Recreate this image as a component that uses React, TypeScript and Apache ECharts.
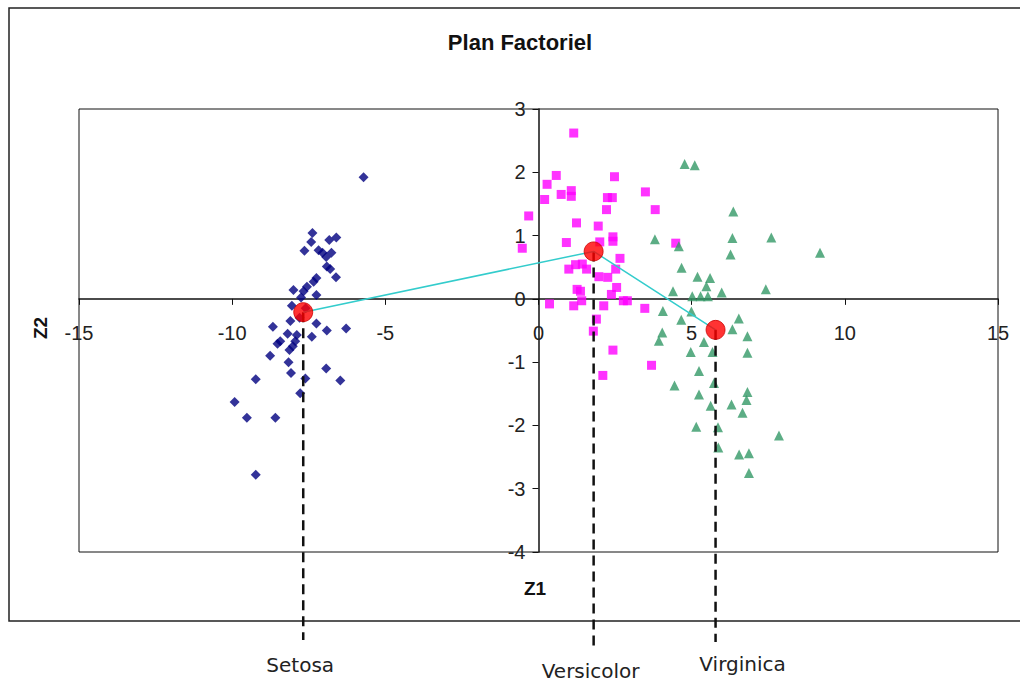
import React, { useEffect, useRef } from "react";
import * as echarts from "echarts";

const titleText = "Plan Factoriel";
const xAxisName = "Z1";
const yAxisName = "Z2";
const classNames = ["Setosa", "Versicolor", "Virginica"];

const setosa: number[][] = [
  [-5.71, 1.92], [-7.38, 1.04], [-7.42, 0.9], [-6.83, 0.93], [-6.6, 0.97],
  [-7.64, 0.76], [-7.18, 0.77], [-7.05, 0.73], [-6.76, 0.73], [-6.93, 0.66],
  [-6.91, 0.51], [-6.8, 0.47], [-6.61, 0.34], [-7.25, 0.33], [-7.34, 0.27],
  [-7.56, 0.19], [-8.0, 0.14], [-7.67, 0.12], [-7.25, 0.06], [-7.75, 0.02],
  [-8.05, -0.11], [-8.1, -0.35], [-8.67, -0.44], [-7.25, -0.39], [-6.91, -0.5],
  [-6.28, -0.47], [-8.19, -0.55], [-7.89, -0.57], [-7.4, -0.6], [-8.43, -0.67],
  [-8.52, -0.71], [-7.94, -0.67], [-8.02, -0.75], [-8.13, -0.81], [-8.76, -0.9],
  [-8.16, -1.0], [-6.93, -1.1], [-8.08, -1.17], [-7.61, -1.26], [-9.23, -1.27],
  [-6.47, -1.29], [-7.78, -1.49], [-9.92, -1.63], [-9.52, -1.88], [-8.59, -1.88],
  [-9.23, -2.78], [-7.6, -0.15], [-7.8, -0.3],
];

const versicolor: number[][] = [
  [1.15, 2.62], [0.58, 1.95], [0.28, 1.81], [0.2, 1.57], [0.74, 1.65],
  [1.07, 1.71], [1.07, 1.62], [2.48, 1.93], [2.25, 1.6], [2.41, 1.6],
  [2.22, 1.41], [3.49, 1.69], [3.81, 1.41], [-0.32, 1.31], [1.24, 1.2],
  [1.95, 1.15], [-0.53, 0.8], [0.91, 0.89], [2.0, 0.9], [2.43, 0.98],
  [2.43, 0.91], [2.66, 0.64], [4.48, 0.88], [0.99, 0.47], [1.21, 0.54],
  [1.43, 0.55], [1.57, 0.47], [2.52, 0.47], [1.97, 0.35], [2.26, 0.34],
  [1.26, 0.15], [1.37, 0.12], [2.55, 0.18], [2.38, 0.07], [1.41, -0.03],
  [0.36, -0.08], [1.15, -0.11], [2.13, -0.11], [2.77, -0.03], [2.9, -0.03],
  [3.47, -0.15], [1.89, -0.32], [1.79, -0.51], [2.43, -0.81], [3.69, -1.05],
  [2.1, -1.21],
];

const virginica: number[][] = [
  [4.77, 2.13], [5.1, 2.11], [6.36, 1.38], [3.8, 0.94], [4.58, 0.83],
  [6.33, 0.96], [7.6, 0.97], [6.27, 0.7], [9.19, 0.73], [4.67, 0.49],
  [5.19, 0.35], [5.6, 0.33], [5.48, 0.2], [4.39, 0.12], [7.42, 0.15],
  [5.98, 0.1], [5.02, 0.04], [5.29, 0.04], [5.53, 0.04], [4.06, -0.19],
  [4.99, -0.2], [4.66, -0.33], [6.54, -0.31], [6.33, -0.48], [4.04, -0.53],
  [3.93, -0.66], [5.4, -0.68], [6.82, -0.59], [4.97, -0.84], [5.68, -0.84],
  [6.82, -0.85], [5.24, -1.14], [5.73, -1.33], [4.44, -1.37], [5.24, -1.51],
  [6.82, -1.47], [6.79, -1.6], [5.62, -1.69], [6.3, -1.67], [6.66, -1.8],
  [5.15, -2.02], [5.86, -2.03], [7.85, -2.16], [5.87, -2.35], [6.55, -2.46],
  [6.87, -2.44], [6.87, -2.75],
];

const centroids: number[][] = [
  [-7.68, -0.21],
  [1.8, 0.75],
  [5.78, -0.49],
];

const xMin = -15;
const xMax = 15;
const yMin = -4;
const yMax = 3;

// layout (pixels)
const W = 1020;
const H = 684;
const gridLeft = 79;
const gridRight = 22;
const gridTop = 109;
const gridBottom = 132;
const dropEnd = [640, 648, 642];
const labelDx = [-3, -3, 27];
const labelY = [665, 671, 664];

export default function App() {
  const ref = useRef<HTMLDivElement>(null);

  useEffect(() => {
    if (!ref.current) return;
    const chart = echarts.init(ref.current, undefined, { renderer: "svg" });
    const gridW = W - gridLeft - gridRight;
    const gridH = H - gridTop - gridBottom;
    // place each axis where the other axis is zero (axes cross at the origin)
    const xAxisOffset = -(gridH * (0 - yMin)) / (yMax - yMin);
    const yAxisOffset = -(gridW * (0 - xMin)) / (xMax - xMin);
    const axisLabelFont = {
      color: "#222",
      fontSize: 20,
      fontFamily: "Liberation Sans, Arial, sans-serif",
    };
    chart.setOption({
      animation: false,
      backgroundColor: "#fff",
      grid: {
        left: gridLeft,
        right: gridRight,
        top: gridTop,
        bottom: gridBottom,
        show: true,
        borderColor: "#111",
        borderWidth: 1,
        backgroundColor: "#fff",
      },
      xAxis: {
        type: "value",
        min: xMin,
        max: xMax,
        interval: 5,
        position: "bottom",
        offset: xAxisOffset,
        axisLine: { onZero: false, lineStyle: { color: "#111", width: 1.5 } },
        axisTick: { show: true, length: 6, inside: false, lineStyle: { color: "#111" } },
        axisLabel: { ...axisLabelFont, margin: 24, showMinLabel: true, showMaxLabel: true },
        splitLine: { show: false },
      },
      yAxis: {
        type: "value",
        min: yMin,
        max: yMax,
        interval: 1,
        position: "left",
        offset: yAxisOffset,
        axisLine: { onZero: false, lineStyle: { color: "#111", width: 1.5 } },
        axisTick: { show: true, length: 6, inside: false, lineStyle: { color: "#111" } },
        axisLabel: { ...axisLabelFont, margin: 13, showMinLabel: true, showMaxLabel: true },
        splitLine: { show: false },
      },
      series: [
        {
          name: "Setosa",
          type: "scatter",
          data: setosa,
          symbol: "diamond",
          symbolSize: 10,
          itemStyle: { color: "#00007F" },
          z: 2,
        },
        {
          name: "Versicolor",
          type: "scatter",
          data: versicolor,
          symbol: "rect",
          symbolSize: 9,
          itemStyle: { color: "#FF00FF" },
          z: 2,
        },
        {
          name: "Virginica",
          type: "scatter",
          data: virginica,
          symbol: "triangle",
          symbolSize: 10,
          itemStyle: { color: "#339966" },
          z: 2,
        },
        {
          type: "custom",
          data: centroids,
          clip: false,
          z: 3,
          renderItem: (params: any, api: any) => {
            const p = api.coord([api.value(0), api.value(1)]);
            const i = params.dataIndex;
            return {
              type: "group",
              children: [
                {
                  type: "line",
                  shape: { x1: p[0], y1: p[1], x2: p[0], y2: dropEnd[i] },
                  style: { stroke: "#111", lineWidth: 2.5, lineDash: [10, 6] },
                },
                {
                  type: "text",
                  x: p[0] + labelDx[i],
                  y: labelY[i],
                  style: {
                    text: classNames[i],
                    fill: "#222",
                    fontSize: 20,
                    fontFamily: "DejaVu Sans, Verdana, sans-serif",
                    align: "center",
                    verticalAlign: "middle",
                  },
                },
              ],
            };
          },
        },
        {
          type: "line",
          data: centroids,
          showSymbol: false,
          lineStyle: { color: "#33CCCC", width: 1.5 },
          z: 4,
        },
        {
          type: "scatter",
          data: centroids,
          symbol: "circle",
          symbolSize: 19,
          itemStyle: { color: "#FF0000", borderColor: "#cc0000", borderWidth: 1 },
          z: 5,
        },
      ],
      graphic: [
        {
          type: "rect",
          shape: { x: 9, y: 8, width: 1030, height: 613 },
          style: { fill: "none", stroke: "#222", lineWidth: 1.5 },
          z: -1,
          silent: true,
        },
        {
          type: "text",
          x: 520,
          y: 42,
          style: {
            text: titleText,
            fill: "#111",
            fontSize: 22,
            fontWeight: "bold",
            fontFamily: "Liberation Sans, Arial, sans-serif",
            align: "center",
            verticalAlign: "middle",
          },
        },
        {
          type: "text",
          x: 535,
          y: 588,
          style: {
            text: xAxisName,
            fill: "#111",
            fontSize: 19,
            fontWeight: "bold",
            fontFamily: "Liberation Sans, Arial, sans-serif",
            align: "center",
            verticalAlign: "middle",
          },
        },
        {
          type: "text",
          x: 40,
          y: 328,
          rotation: Math.PI / 2,
          style: {
            text: yAxisName,
            fill: "#111",
            fontSize: 19,
            fontWeight: "bold",
            fontFamily: "Liberation Sans, Arial, sans-serif",
            align: "center",
            verticalAlign: "middle",
          },
        },
      ],
    });
    return () => chart.dispose();
  }, []);

  return (
    <div
      ref={ref}
      style={{ position: "fixed", left: 0, top: 0, width: W, height: H, background: "#fff" }}
    />
  );
}
